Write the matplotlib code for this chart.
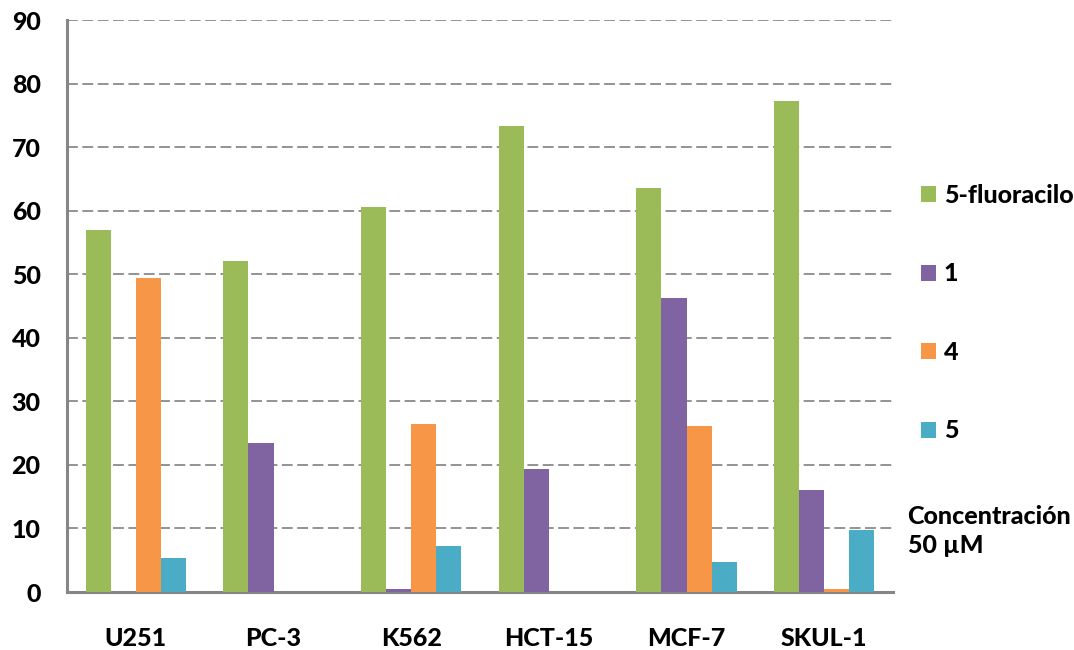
import numpy as np
import matplotlib.pyplot as plt
from matplotlib.patches import Patch

# cell lines and % inhibition per compound (NaN = not measured / no bar)
lines = ["U251", "PC-3", "K562", "HCT-15", "MCF-7", "SKUL-1"]
fluoracilo = [56.9, 52.1, 60.6, 73.4, 63.6, 77.3]
comp_1 = [np.nan, 23.5, 0.4, 19.4, 46.3, 16.1]
comp_4 = [49.4, np.nan, 26.5, np.nan, 26.2, 0.55]
comp_5 = [5.3, np.nan, 7.3, np.nan, 4.8, 9.8]

series = [
    ("5-fluoracilo", fluoracilo, "#9BBB59"),
    ("1", comp_1, "#8064A2"),
    ("4", comp_4, "#F79646"),
    ("5", comp_5, "#4BACC6"),
]

FS = 18
WEIGHT = "black"
plt.rcParams["font.family"] = ["Lato", "DejaVu Sans"]

fig = plt.figure(figsize=(10.74, 6.5), dpi=100)
ax = fig.add_axes([0.0624, 0.0892, 0.7691, 0.8800])

x = np.arange(len(lines))
width = 1 / 5.5
for i, (name, vals, color) in enumerate(series):
    ax.bar(x + (i - 1.5) * width, vals, width, color=color, label=name, zorder=3)

ax.set_xlim(-0.5, len(lines) - 0.5)
ax.set_ylim(0, 90)
ax.set_yticks(range(0, 91, 10))
ax.set_xticks(x)
ax.set_xticklabels(lines)
ax.tick_params(axis="both", length=0, labelsize=FS)
ax.tick_params(axis="y", pad=19)
ax.tick_params(axis="x", pad=25)
for lab in ax.get_xticklabels() + ax.get_yticklabels():
    lab.set_fontweight(WEIGHT)

ax.yaxis.grid(True, color="#8a8a8a", linestyle=(0, (6, 2.5)), linewidth=1.3, zorder=0)
for side in ("top", "right"):
    ax.spines[side].set_visible(False)
for side in ("left", "bottom"):
    ax.spines[side].set_color("#868686")
    ax.spines[side].set_linewidth(2.2)

handles = [Patch(facecolor=c, edgecolor="none") for _, _, c in series]
leg = fig.legend(handles, [s[0] for s in series], loc="upper left",
                 bbox_to_anchor=(0.858, 0.717), frameon=False,
                 prop={"size": FS, "weight": WEIGHT},
                 handlelength=0.6, handleheight=0.6, handletextpad=0.3,
                 labelspacing=2.22, borderaxespad=0, borderpad=0)

fig.text(0.845, 0.183, "Concentración\n50 µM", fontsize=FS, fontweight=WEIGHT,
         ha="left", va="center", linespacing=1.3)

fig.savefig("out.png", dpi=100)
